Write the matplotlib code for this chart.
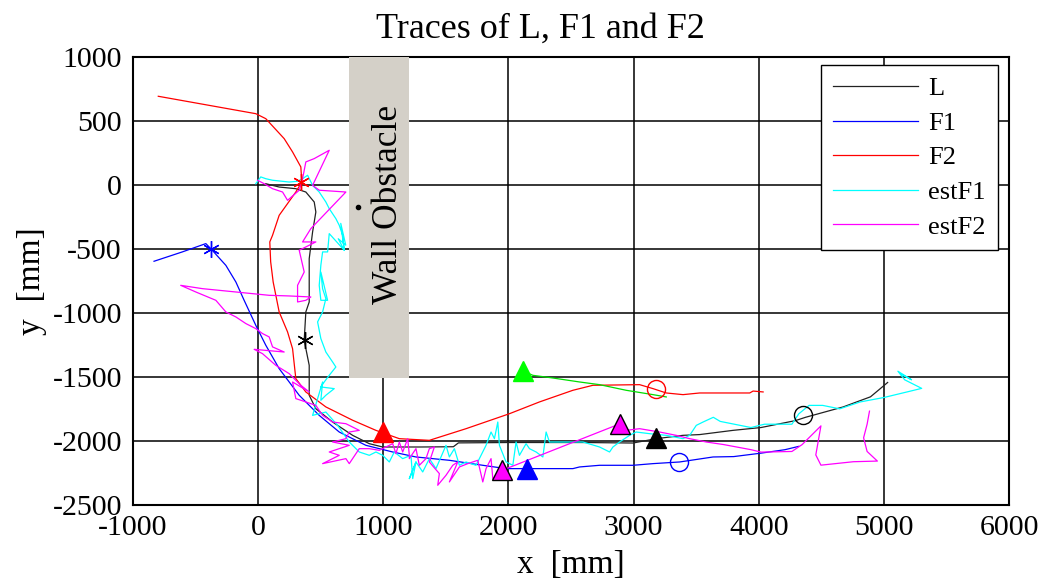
import numpy as np
import matplotlib
matplotlib.use('Agg')
import matplotlib.pyplot as plt
from matplotlib.patches import Rectangle

plt.rcParams['font.family'] = ['Liberation Serif', 'DejaVu Serif']
plt.rcParams['axes.unicode_minus'] = False

# leader L
L_x = [61, 168, 301, 381, 448, 461, 435, 408, 408, 381, 368, 408, 408, 461, 595, 755, 888, 995,
       1300, 1560, 1600, 2000, 2600, 2995, 3181, 3395, 3528, 3795, 4018, 4293, 4374, 4675, 4893, 5030]
L_y = [10, -16, -29, -55, -133, -211, -367, -576, -914, -992, -1214, -1409, -1643, -1748, -1852, -1956, -2021, -2047,
       -2047, -2045, -2015, -2012, -2012, -2016, -1982, -1956, -1950, -1917, -1895, -1841, -1815, -1734, -1655, -1543]

# follower F1
F1_x = [-832, -606, -418, -379, -258, -178, -112, -19, 61, 168, 328, 488, 648, 861, 1075, 1261, 1528,
        1795, 1981, 2141, 2515, 2568, 2728, 2995, 3155, 3368, 3635, 3800, 4019, 4210, 4320]
F1_y = [-596, -523, -458, -497, -628, -758, -901, -1096, -1252, -1435, -1643, -1800, -1930, -2034, -2086, -2125, -2151,
        -2190, -2216, -2216, -2216, -2203, -2190, -2190, -2177, -2164, -2125, -2122, -2095, -2068, -2042]

# follower F2
F2_x = [-798, -19, 61, 208, 275, 341, 349, 301, 168, 115, 93, 100, 120, 168, 235, 275, 301, 381, 541, 755, 941,
        1128, 1368, 1661, 2008, 2248, 2515, 2675, 3048, 3155, 3261, 3395, 3528, 3928, 3955, 4035]
F2_y = [693, 557, 518, 362, 258, 141, 23, -55, -237, -393, -445, -600, -758, -992, -1148, -1279, -1513, -1617, -1734, -1838, -1917,
        -1982, -1995, -1904, -1787, -1695, -1604, -1565, -1560, -1591, -1625, -1638, -1625, -1625, -1610, -1617]

# green segment
G_x = [2115, 2195, 2355, 2568, 2728, 2941, 3155, 3261]
G_y = [-1453, -1487, -1508, -1539, -1560, -1604, -1638, -1656]

# estimated F1
eF1_x = [-19, 21, 61, 115, 248, 315, 355, 395, 435, 488, 541, 568, 621, 648, 675, 688, 640, 700, 660, 688,
         568, 555, 515, 501, 488, 501, 555, 501, 515, 541, 515, 475, 501, 541, 595, 621, 568, 528, 501,
         608, 541, 501, 515, 435, 541, 635, 728, 808, 888, 941, 995, 1048, 1088, 1155, 1221, 1235, 1261,
         1208, 1261, 1315, 1368, 1421, 1501, 1528, 1568, 1608, 1661, 1741, 1821, 1861, 1888, 1915, 1928,
         1981, 2035, 2061, 2088, 2141, 2168, 2221, 2275, 2301, 2328, 2408, 2595, 2728, 2808, 2835, 2888,
         2968, 3021, 3128, 3261, 3395, 3448, 3501, 3555, 3637, 3692, 3938, 4046, 4265, 4320, 4402, 4511,
         4647, 4811, 5002, 5193, 5302, 5166, 5112, 5221, 5140]
eF1_y = [10, 63, 49, 37, 23, 29, 49, 76, -3, -55, -133, -185, -263, -315, -393, -510, -420, -470, -300, -510,
         -380, -523, -523, -627, -784, -901, -901, -680, -810, -888, -992, -1070, -1200, -1305, -1383, -1422, -1487, -1539, -1578,
         -1591, -1643, -1682, -1539, -1800, -1774, -1878, -2008, -2086, -2112, -2086, -2112, -2164, -2086, -2138, -2112, -2294, -2164,
         -2294, -2164, -2242, -2138, -2216, -2034, -2125, -2060, -2190, -2164, -2190, -2034, -1930, -1982, -1852, -2034,
         -2164, -2190, -2008, -2112, -2021, -2060, -2086, -2125, -1930, -2008, -2008, -2008, -2047, -2086, -2047, -2008,
         -1956, -1930, -1943, -1956, -1982, -1956, -1878, -1852, -1815, -1847, -1895, -1869, -1869, -1788, -1722, -1722,
         -1749, -1695, -1660, -1615, -1589, -1522, -1455, -1522, -1480]

# estimated F2
eF2_x = [-5, 48, 115, 195, 235, 328, 355, 381, 448, 568, 435, 488, 701, 421, 355, 461, 328, 368, 315, 315,
         381, 421, 248, 88, -178, -445, -619, -498, -338, -258, -178, -98, -19, 35, 88, 115, 208, -32, 35,
         141, 248, 341, 408, 275, 301, 381, 461, 515, 595, 701, 808, 728, 701, 595, 728, 568, 648, 515, 701,
         728, 808, 888, 968, 1021, 1075, 1101, 1128, 1155, 1195, 1208, 1208, 1261, 1288, 1341, 1368, 1408,
         1368, 1448, 1435, 1501, 1555, 1595, 1528, 1608, 1675, 1755, 1795, 1821, 1861, 1875, 1955, 1950,
         2893, 2941, 3048, 3208, 3341, 3448, 3581, 3719, 3938, 4019, 4265, 4347, 4497, 4456, 4497, 4757,
         4948, 4866, 4838, 4866, 4885]
eF2_y = [37, 10, -29, -55, -120, -41, 49, 180, 206, 271, -3, -41, -55, -341, -445, -445, -510, -680, -784, -914,
         -901, -875, -867, -862, -836, -810, -784, -836, -901, -992, -1031, -1083, -1122, -1161, -1187, -1265, -1305, -1284, -1318,
         -1409, -1474, -1565, -1617, -1539, -1669, -1695, -1722, -1800, -1852, -1865, -1917, -1930, -1982, -2008, -2034, -2086, -2112, -2177, -2138,
         -2177, -2060, -2060, -2073, -2047, -2021, -2099, -2008, -2086, -1982, -2112, -2138, -2060, -2190, -2138, -2060, -2047,
         -2164, -2255, -2346, -2268, -2190, -2164, -2320, -2203, -2177, -2151, -2320, -2216, -2138, -2294, -2255, -2229,
         -1865, -1917, -1904, -1930, -1956, -1982, -2008, -2028, -2068, -2087, -2082, -2028, -1882, -2109, -2189, -2162,
         -2157, -2082, -1975, -1869, -1767]

# start (*), end (triangle) and mid (circle) markers
star_x = [376, -379, 345]
star_y = [-1214, -497, 20]
star_c = ['k', 'b', 'r']
tri_x = [995, 2115, 1950, 2147, 2893, 3181]
tri_y = [-1930, -1453, -2229, -2216, -1865, -1977]
tri_c = ['#ff0000', '#00ff00', '#ff00ff', '#0000ff', '#ff00ff', 'k']
tri_ec = ['#ff0000', '#00ff00', 'k', '#0000ff', 'k', 'k']
circ_x = [3181, 3363, 4352]
circ_y = [-1596, -2164, -1797]
circ_c = ['r', 'b', 'k']

fig = plt.figure(figsize=(10.44, 5.88), dpi=100)
ax = fig.add_axes([0.1274, 0.1412, 0.8391, 0.7619])

# wall obstacle
ax.add_patch(Rectangle((728, -1508), 480, 2508, facecolor='#d4d0c8', edgecolor='none', zorder=3))
ax.plot([800], [-172], 'k.', markersize=6, zorder=4)
ax.text(1040, -150, 'Wall Obstacle', rotation=90, ha='center', va='center', fontsize=25.5, zorder=4)

ax.plot(L_x, L_y, color='#222222', lw=0.9, label='L', zorder=5)
ax.plot(F1_x, F1_y, color='#0000ff', lw=0.9, label='F1', zorder=5)
ax.plot(F2_x, F2_y, color='#ff0000', lw=0.9, label='F2', zorder=5)
ax.plot(eF1_x, eF1_y, color='#00ffff', lw=0.9, label='estF1', zorder=5)
ax.plot(eF2_x, eF2_y, color='#ff00ff', lw=0.9, label='estF2', zorder=5)
ax.plot(G_x, G_y, color='#00dd00', lw=0.9, zorder=5)

for x, y, c in zip(star_x, star_y, star_c):
    ax.plot(x, y, marker=(6, 2, 0), color=c, markersize=12, mew=1, zorder=6)
for x, y, c, ec in zip(tri_x, tri_y, tri_c, tri_ec):
    ax.plot(x, y, marker='^', color=c, mec=ec, markersize=14, mew=1, zorder=6)
for x, y, c in zip(circ_x, circ_y, circ_c):
    ax.plot(x, y, marker='o', mfc='none', mec=c, markersize=13, mew=1, zorder=6)

ax.set_xlim(-1000, 6000)
ax.set_ylim(-2500, 1000)
ax.set_xticks(np.arange(-1000, 6001, 1000))
ax.set_yticks(np.arange(-2500, 1001, 500))
ax.grid(True, color='k', lw=1.1, linestyle='-')
ax.set_axisbelow(True)
ax.tick_params(labelsize=21.5, direction='in', length=0)
ax.tick_params(axis='x', pad=7)
ax.tick_params(axis='y', pad=8)
for s in ax.spines.values():
    s.set_linewidth(1.5)

ax.set_title('Traces of L, F1 and F2', fontsize=26, pad=14, x=0.465)
ax.set_xlabel('x  [mm]', fontsize=24, labelpad=6)
ax.set_ylabel('y  [mm]', fontsize=24, labelpad=4)

leg = ax.legend(loc='upper right', bbox_to_anchor=(0.987, 0.982), borderaxespad=0, fontsize=19,
                fancybox=False, edgecolor='k', framealpha=1, handlelength=3.2, handletextpad=0.4,
                labelspacing=0.42, borderpad=0.45)
leg.get_frame().set_linewidth(1)

fig.savefig('out.png', dpi=100)
